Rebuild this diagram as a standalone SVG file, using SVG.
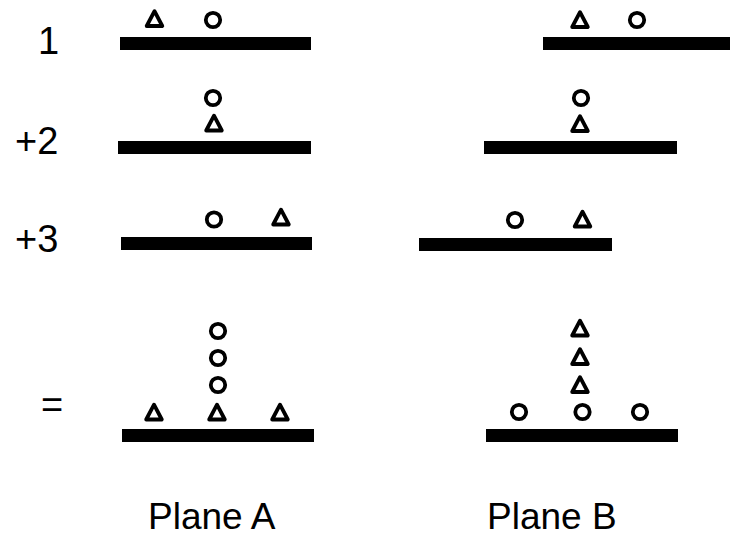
<svg xmlns="http://www.w3.org/2000/svg" xmlns:xlink="http://www.w3.org/1999/xlink" width="730" height="538" viewBox="0 0 730 538">
  <style>
    .bar { fill: #000; }
    .mark { fill: none; stroke: #000; stroke-width: 3.8; stroke-linejoin: round; }
    .lbl { font-family: "Liberation Sans", Arial, sans-serif; font-size: 38px; fill: #000; }
    .cap { font-family: "Liberation Sans", Arial, sans-serif; font-size: 37px; fill: #000; }
  </style>
  <defs>
    <path id="tri" class="mark" d="M0,-7.8 L7.8,7 L-7.8,7 Z"/>
    <circle id="dot" class="mark" r="7.2"/>
  </defs>
  <rect width="730" height="538" fill="#fff"/>

  <!-- row labels -->
  <g id="row-labels">
    <text class="lbl" x="38" y="54">1</text>
    <text class="lbl" x="15" y="154">+2</text>
    <text class="lbl" x="15" y="252">+3</text>
    <text class="lbl" x="41" y="418">=</text>
  </g>

  <!-- row 1 -->
  <g id="r1-a">
    <rect class="bar" x="120" y="37" width="191" height="13"/>
    <use xlink:href="#tri" x="154.5" y="19"/>
    <use xlink:href="#dot" x="213" y="20"/>
  </g>
  <g id="r1-b">
    <rect class="bar" x="543" y="37" width="187" height="13"/>
    <use xlink:href="#tri" x="580" y="20"/>
    <use xlink:href="#dot" x="637" y="20"/>
  </g>

  <!-- row 2 -->
  <g id="r2-a">
    <rect class="bar" x="118" y="141" width="193" height="13"/>
    <use xlink:href="#dot" x="213" y="98"/>
    <use xlink:href="#tri" x="214" y="123.5"/>
  </g>
  <g id="r2-b">
    <rect class="bar" x="484" y="141" width="193" height="13"/>
    <use xlink:href="#dot" x="581" y="98"/>
    <use xlink:href="#tri" x="580" y="124"/>
  </g>

  <!-- row 3 -->
  <g id="r3-a">
    <rect class="bar" x="121" y="237" width="191" height="13"/>
    <use xlink:href="#dot" x="214" y="219.5"/>
    <use xlink:href="#tri" x="281" y="217.5"/>
  </g>
  <g id="r3-b">
    <rect class="bar" x="419" y="238" width="193" height="13"/>
    <use xlink:href="#dot" x="515" y="220"/>
    <use xlink:href="#tri" x="582.5" y="219.5"/>
  </g>

  <!-- sum row -->
  <g id="sum-a">
    <rect class="bar" x="122" y="429" width="192" height="13"/>
    <use xlink:href="#dot" x="218" y="331"/>
    <use xlink:href="#dot" x="218" y="358"/>
    <use xlink:href="#dot" x="218" y="385"/>
    <use xlink:href="#tri" x="154" y="412.5"/>
    <use xlink:href="#tri" x="217" y="412.5"/>
    <use xlink:href="#tri" x="280" y="412.5"/>
  </g>
  <g id="sum-b">
    <rect class="bar" x="486" y="429" width="192" height="13"/>
    <use xlink:href="#tri" x="580" y="328.5"/>
    <use xlink:href="#tri" x="580" y="357"/>
    <use xlink:href="#tri" x="580" y="385"/>
    <use xlink:href="#dot" x="519" y="412"/>
    <use xlink:href="#dot" x="582.5" y="412"/>
    <use xlink:href="#dot" x="640" y="412"/>
  </g>

  <!-- plane captions -->
  <g id="captions">
    <text class="cap" x="148" y="529">Plane A</text>
    <text class="cap" x="487" y="529">Plane B</text>
  </g>
</svg>
